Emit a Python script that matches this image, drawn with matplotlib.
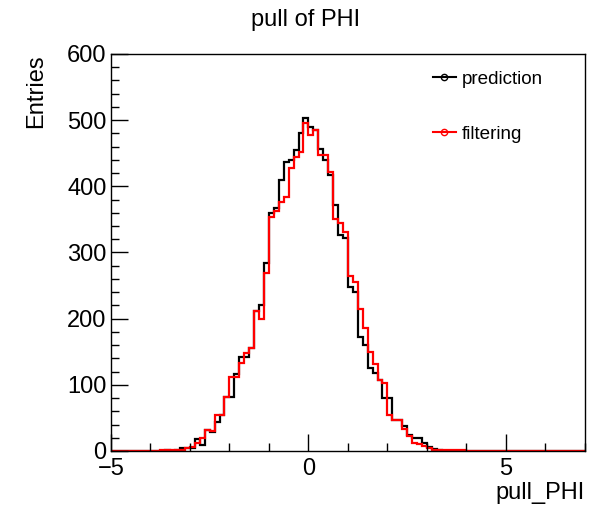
import numpy as np
import matplotlib.pyplot as plt
from matplotlib.lines import Line2D
from matplotlib.ticker import MultipleLocator

plt.rcParams['font.family'] = ['Liberation Sans', 'DejaVu Sans']

# histogram binning (96 bins of 0.125 from -5 to 7)
n_bins = 96
x_lo, x_hi = -5.0, 7.0

# bin contents
prediction = [
    0, 0, 0, 0, 0, 0, 0, 0, 0, 0,
    0, 1, 0, 2, 5, 4, 5, 18, 9, 32,
    29, 44, 54, 82, 82, 117, 142, 142, 155, 212,
    220, 284, 360, 367, 409, 437, 440, 455, 480, 503,
    490, 485, 456, 440, 417, 372, 326, 322, 248, 240,
    173, 160, 125, 118, 107, 80, 80, 47, 47, 37,
    24, 19, 19, 12, 6, 3, 1, 0, 0, 0,
    0, 0, 0, 0, 0, 0, 0, 0, 0, 0,
    0, 0, 0, 0, 0, 0, 0, 0, 0, 0,
    0, 0, 0, 0, 0, 0,
]
filtering = [
    0, 0, 0, 0, 0, 0, 0, 0, 0, 0,
    1, 1, 1, 2, 2, 4, 6, 12, 20, 32,
    30, 54, 54, 82, 112, 112, 133, 148, 155, 212,
    200, 269, 354, 362, 377, 384, 427, 445, 452, 495,
    478, 485, 447, 447, 422, 351, 344, 331, 265, 255,
    215, 186, 150, 132, 107, 102, 54, 47, 47, 33,
    22, 12, 10, 8, 5, 2, 1, 1, 2, 1,
    1, 1, 0, 0, 0, 0, 0, 0, 0, 0,
    0, 0, 0, 0, 0, 0, 0, 0, 0, 0,
    0, 0, 0, 0, 0, 0,
]
labels = ["prediction", "filtering"]
colors = ["black", "red"]

edges = np.linspace(x_lo, x_hi, n_bins + 1)

fig = plt.figure(figsize=(5.96, 5.07), dpi=100)
ax = fig.add_axes([0.186, 0.1105, 0.7955, 0.783])

for vals, col in zip([prediction, filtering], colors):
    ax.stairs(vals, edges, color=col, linewidth=1.6, baseline=None)

ax.set_xlim(x_lo, x_hi)
ax.set_ylim(0, 600)

# ROOT-like ticks: inside, only on bottom/left
ax.xaxis.set_major_locator(MultipleLocator(5))
ax.xaxis.set_minor_locator(MultipleLocator(1))
ax.yaxis.set_major_locator(MultipleLocator(100))
ax.yaxis.set_minor_locator(MultipleLocator(20))
ax.tick_params(which='both', direction='in', top=False, right=False, width=1)
ax.tick_params(which='major', length=12, labelsize=17)
ax.tick_params(axis='y', which='major', pad=3)
ax.tick_params(axis='x', which='major', pad=5)
ax.tick_params(which='minor', length=6)
for s in ax.spines.values():
    s.set_linewidth(1)

ax.set_xlabel("pull_PHI", fontsize=17, loc='right')
ax.xaxis.set_label_coords(1.0, -0.078)
ax.xaxis.label.set_va('top')
ax.set_ylabel("Entries", fontsize=17, loc='top')
ax.yaxis.set_label_coords(-0.135, 1.0)

fig.text(0.512, 1 - 20 / 507, "pull of PHI", ha='center', va='center', fontsize=17)

handles = [Line2D([], [], color=c, lw=1.5, marker='o', mfc='none', ms=4.5) for c in colors]
ax.legend(handles, labels, loc='upper left', bbox_to_anchor=(0.7265, 0.861),
          bbox_transform=fig.transFigure, frameon=False, fontsize=13.6,
          handlelength=1.2, handletextpad=0.3, labelspacing=2.0,
          borderpad=0, borderaxespad=0)

fig.savefig("out.png", dpi=100)
